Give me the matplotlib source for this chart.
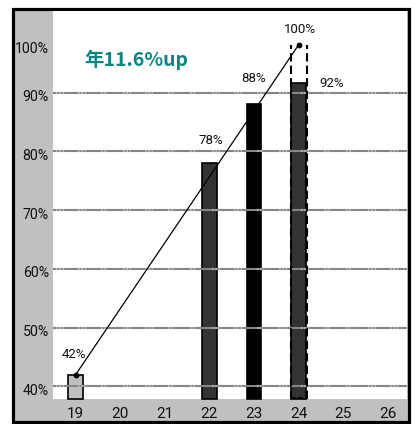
import numpy as np
import matplotlib
matplotlib.use("Agg")
import matplotlib.pyplot as plt
from matplotlib.patches import Rectangle
import matplotlib.transforms as mtransforms

# ---- data -------------------------------------------------------------
years = [19, 22, 23, 24]
rates = [42, 78, 88, 92]
bar_colors = ["#c0c0c0", "#333333", "#000000", "#333333"]
target_year = 24
target_rate = 100
trend_years = [19, 24]
trend_rates = [42, 100]
x_ticks = [19, 20, 21, 22, 23, 24, 25, 26]
y_ticks = [40, 50, 60, 70, 80, 90, 100]
headline = "年11.6%up"

# ---- figure -----------------------------------------------------------
W, H = 420, 424
fig = plt.figure(figsize=(W / 100, H / 100), dpi=100)
fig.patch.set_facecolor("white")

def fx(px):
    return px / W

def fy(py):
    return 1 - py / H

# grey panel with heavy black frame
fig.add_artist(Rectangle((fx(13.5), fy(421.5)), fx(408.5) - fx(13.5), fy(9) - fy(421.5),
                         transform=fig.transFigure, facecolor="#c0c0c0",
                         edgecolor="black", linewidth=2.3, zorder=0))

ax = fig.add_axes([fx(53), fy(398.5), fx(406.5) - fx(53), fy(10.5) - fy(398.5)])
ax.set_facecolor("white")

# piecewise-linear vertical scale (upper band is compressed)
kv = np.array([0.0, 40.0, 90.0, 100.0, 200.0])
kt = np.array([-40.0, 0.0, 50.0, 58.12, 58.12 + 81.2])

def fwd(v):
    return np.interp(v, kv, kt)

def inv(t):
    return np.interp(t, kt, kv)

ax.set_yscale("function", functions=(fwd, inv))
ax.set_xlim(18.49, 26.42)
ax.set_ylim(37.92, 107.2)
y0 = 37.92

narrow = ["Roboto", "DejaVu Sans"]

# bars
bw = 0.33
for x, v, c in zip(years, rates, bar_colors):
    ax.bar(x, v - y0, bottom=y0, width=bw, color=c, edgecolor="black",
           linewidth=1.2, zorder=2, clip_on=False)

# dashed target outline
hw = 0.18
for xe in (target_year - hw, target_year + hw):
    ax.plot([xe, xe], [y0, target_rate], color="black", lw=1.5,
            linestyle=(0, (4, 2)), zorder=4, clip_on=False)
ax.plot([target_year - hw, target_year + hw], [y0 + 0.1, y0 + 0.1], color="black",
        lw=1.5, linestyle=(0, (2, 1.5)), zorder=4, clip_on=False)

# gridlines drawn over the bars, with short dotted runs every half step
for gy in y_ticks[:-1]:
    ax.axhline(gy, color="#858585", lw=1.5, zorder=3)
    for xs in np.arange(18.56, 26.4, 0.5):
        ax.plot([xs, xs + 0.17], [gy, gy], color="#b5b5b5", lw=1.5, zorder=3.1,
                linestyle=(0, (0.8, 0.8)))

# trend line
ax.plot(trend_years, trend_rates, color="black", lw=0.9, zorder=5,
        marker="o", markersize=3.2, clip_on=False)

# value labels
lab_kw = dict(textcoords="offset pixels", ha="center", va="center",
              fontsize=9.5, family=narrow, color="#111111", zorder=6)
ax.annotate(f"{trend_rates[0]}%", (trend_years[0], trend_rates[0]), xytext=(-2, 20), **lab_kw)
ax.annotate(f"{rates[1]}%", (years[1], rates[1]), xytext=(1, 23), **lab_kw)
ax.annotate(f"{rates[2]}%", (years[2], rates[2]), xytext=(0, 26), **lab_kw)
ax.annotate(f"{rates[3]}%", (years[3], rates[3]), xytext=(33, 0), **lab_kw)
ax.annotate(f"{target_rate}%", (target_year, target_rate), xytext=(1, 15), **lab_kw)

# headline
fig.text(fx(136), fy(60), headline, ha="center", va="center", fontsize=14,
         fontweight="bold", color="#0b8582", family=["Noto Sans CJK JP", "DejaVu Sans"])

# axes furniture
for s in ax.spines.values():
    s.set_visible(False)
ax.set_xticks(x_ticks)
ax.set_xticklabels([str(t) for t in x_ticks], family=narrow, fontsize=11)
ax.set_yticks(y_ticks)
ax.set_yticklabels([f"{t}%" for t in y_ticks], family=narrow, fontsize=10.2)
ax.yaxis.set_minor_locator(matplotlib.ticker.NullLocator())
ax.tick_params(axis="both", length=0, colors="#111111")
ax.tick_params(axis="x", pad=6)
ax.tick_params(axis="y", pad=3)
shift = mtransforms.ScaledTranslation(0, -3 / 100, fig.dpi_scale_trans)
for lbl in ax.get_yticklabels():
    lbl.set_transform(lbl.get_transform() + shift)

fig.savefig("out.png", dpi=100)
